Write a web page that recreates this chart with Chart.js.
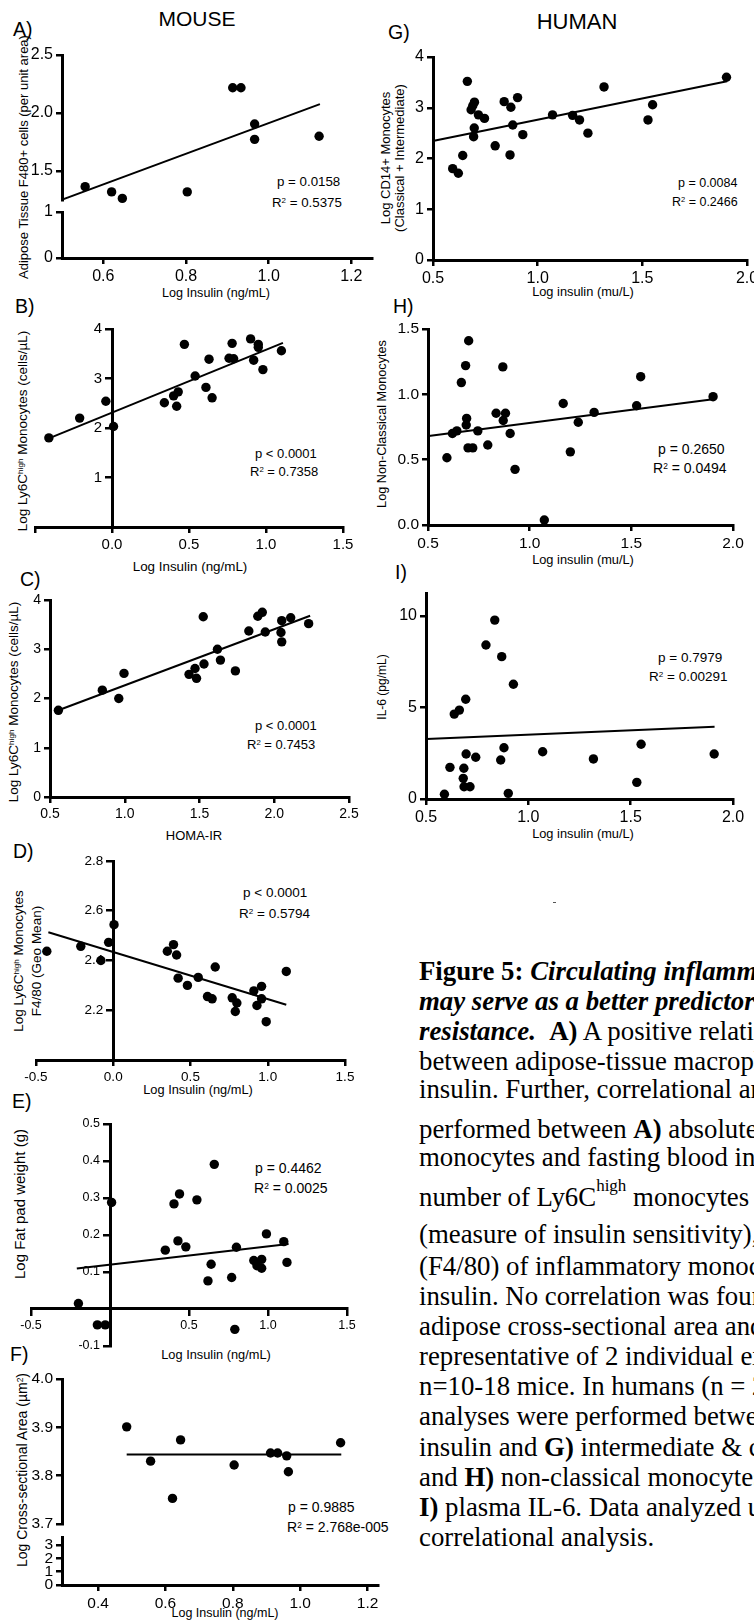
<!DOCTYPE html>
<html>
<head>
<meta charset="utf-8">
<script src="https://cdn.jsdelivr.net/npm/chart.js@4.4.1/dist/chart.umd.min.js"></script>
<style>
html, body { margin: 0; padding: 0; background: #fff; }
body { width: 754px; height: 1623px; position: relative; overflow: hidden; font-family: 'Liberation Sans', Arial, sans-serif; color: #000; }
canvas { position: absolute; }
.t { position: absolute; white-space: nowrap; transform: translate(-50%, -50%); line-height: 1; }
.v { position: absolute; white-space: nowrap; transform: translate(-50%, -50%) rotate(-90deg); line-height: 1; }
.p { position: absolute; white-space: nowrap; transform: translateY(-50%); line-height: 1; }
.cap { position: absolute; left: 419px; white-space: nowrap; font-family: 'Liberation Serif', 'Times New Roman', serif; font-size: 26.8px; line-height: 30px; }
sup { font-size: 0.6em; vertical-align: 0.5em; line-height: 0; }
</style>
</head>
<body>

<div class="t" style="left:197px;top:18px;font-size:21px">MOUSE</div>
<div class="t" style="left:577px;top:22px;font-size:22px">HUMAN</div>

<!-- panel letters -->
<div class="p" style="left:13px;top:30px;font-size:19.5px">A)</div>
<div class="p" style="left:15px;top:307px;font-size:19.5px">B)</div>
<div class="p" style="left:20px;top:580px;font-size:19.5px">C)</div>
<div class="p" style="left:13px;top:852px;font-size:19.5px">D)</div>
<div class="p" style="left:12px;top:1102px;font-size:19.5px">E)</div>
<div class="p" style="left:10px;top:1355px;font-size:19.5px">F)</div>
<div class="p" style="left:388px;top:33px;font-size:19.5px">G)</div>
<div class="p" style="left:393px;top:307px;font-size:19.5px">H)</div>
<div class="p" style="left:395px;top:573px;font-size:19.5px">I)</div>

<!-- y axis titles -->
<div class="v" style="left:23px;top:157px;font-size:13px">Adipose Tissue F480+ cells (per unit area)</div>
<div class="v" style="left:23px;top:431px;font-size:13.5px">Log Ly6C<sup>high</sup> Monocytes (cells/µL)</div>
<div class="v" style="left:14px;top:702px;font-size:13.5px">Log Ly6C<sup>high</sup> Monocytes (cells/µL)</div>
<div class="v" style="left:19px;top:961px;font-size:13.5px">Log Ly6C<sup>high</sup> Monocytes</div>
<div class="v" style="left:37px;top:961px;font-size:13.5px">F4/80 (Geo Mean)</div>
<div class="v" style="left:19px;top:1204px;font-size:15px">Log Fat pad weight (g)</div>
<div class="v" style="left:22px;top:1470px;font-size:14px">Log Cross-sectional Area (µm<sup>2</sup>)</div>
<div class="v" style="left:385px;top:158px;font-size:13px">Log CD14+ Monocytes</div>
<div class="v" style="left:399px;top:158px;font-size:13px">(Classical + Intermediate)</div>
<div class="v" style="left:382px;top:424px;font-size:12.7px">Log Non-Classical Monocytes</div>
<div class="v" style="left:382px;top:687px;font-size:12px">IL-6 (pg/mL)</div>

<!-- x axis titles -->
<div class="t" style="left:216px;top:293px;font-size:12.6px">Log Insulin (ng/mL)</div>
<div class="t" style="left:190px;top:567px;font-size:13.4px">Log Insulin (ng/mL)</div>
<div class="t" style="left:194px;top:835px;font-size:13px">HOMA-IR</div>
<div class="t" style="left:198px;top:1090px;font-size:12.8px">Log Insulin (ng/mL)</div>
<div class="t" style="left:216px;top:1355px;font-size:12.8px">Log Insulin (ng/mL)</div>
<div class="t" style="left:225px;top:1613px;font-size:12.5px">Log Insulin (ng/mL)</div>
<div class="t" style="left:583px;top:292px;font-size:12.8px">Log insulin (mu/L)</div>
<div class="t" style="left:583px;top:560px;font-size:12.8px">Log insulin (mu/L)</div>
<div class="t" style="left:583px;top:834px;font-size:12.8px">Log insulin (mu/L)</div>

<!-- stats -->
<div class="p" style="left:277px;top:182px;font-size:13.3px">p = 0.0158</div>
<div class="p" style="left:272px;top:203px;font-size:13.3px">R<sup>2</sup> = 0.5375</div>
<div class="p" style="left:255px;top:453px;font-size:13px">p &lt; 0.0001</div>
<div class="p" style="left:250px;top:471px;font-size:13px">R<sup>2</sup> = 0.7358</div>
<div class="p" style="left:255px;top:725px;font-size:13px">p &lt; 0.0001</div>
<div class="p" style="left:247px;top:744px;font-size:13px">R<sup>2</sup> = 0.7453</div>
<div class="p" style="left:243px;top:893px;font-size:13.5px">p &lt; 0.0001</div>
<div class="p" style="left:239px;top:914px;font-size:13.5px">R<sup>2</sup> = 0.5794</div>
<div class="p" style="left:255px;top:1168px;font-size:14px">p = 0.4462</div>
<div class="p" style="left:254px;top:1188px;font-size:14px">R<sup>2</sup> = 0.0025</div>
<div class="p" style="left:288px;top:1507px;font-size:14px">p = 0.9885</div>
<div class="p" style="left:287px;top:1527px;font-size:14px">R<sup>2</sup> = 2.768e-005</div>
<div class="p" style="left:678px;top:183px;font-size:12.5px">p = 0.0084</div>
<div class="p" style="left:672px;top:202px;font-size:12.5px">R<sup>2</sup> = 0.2466</div>
<div class="p" style="left:658px;top:449px;font-size:14px">p = 0.2650</div>
<div class="p" style="left:653px;top:468px;font-size:14px">R<sup>2</sup> = 0.0494</div>
<div class="p" style="left:658px;top:658px;font-size:13.5px">p = 0.7979</div>
<div class="p" style="left:649px;top:677px;font-size:13.5px">R<sup>2</sup> = 0.00291</div>

<div style="position:absolute;left:553px;top:902px;width:3px;height:1px;background:#555"></div>

<!-- caption -->
<div class="cap" style="top:956px"><b>Figure 5: <i>Circulating inflammatory monocytes</i></b></div>
<div class="cap" style="top:986px"><b><i>may serve as a better predictor of insulin</i></b></div>
<div class="cap" style="top:1016px"><b><i>resistance.</i></b>&nbsp; <b>A)</b> A positive relationship was found</div>
<div class="cap" style="top:1046px">between adipose-tissue macrophages and fasting</div>
<div class="cap" style="top:1074px">insulin. Further, correlational analyses were</div>
<div class="cap" style="top:1114px">performed between <b>A)</b> absolute number of Ly6C</div>
<div class="cap" style="top:1142px">monocytes and fasting blood insulin, <b>B)</b> absolute</div>
<div class="cap" style="top:1182px">number of Ly6C<span style="font-size:17px;position:relative;top:-15px">high</span> monocytes and HOMA-IR</div>
<div class="cap" style="top:1219px">(measure of insulin sensitivity), and <b>D)</b> expression</div>
<div class="cap" style="top:1251px">(F4/80) of inflammatory monocytes and fasting</div>
<div class="cap" style="top:1281px">insulin. No correlation was found between <b>E)</b></div>
<div class="cap" style="top:1311px">adipose cross-sectional area and insulin. Data</div>
<div class="cap" style="top:1341px">representative of 2 individual experiments with</div>
<div class="cap" style="top:1371px">n=10-18 mice. In humans (n = 27), correlational</div>
<div class="cap" style="top:1401px">analyses were performed between fasting blood</div>
<div class="cap" style="top:1432px">insulin and <b>G)</b> intermediate &amp; classical monocytes,</div>
<div class="cap" style="top:1462px">and <b>H)</b> non-classical monocytes and</div>
<div class="cap" style="top:1492px"><b>I)</b> plasma IL-6. Data analyzed using linear</div>
<div class="cap" style="top:1522px">correlational analysis.</div>

<script>
const FONT = "'Liberation Sans', Arial, sans-serif";

// ---- MOUSE ----
// A) adipose F4/80+ cells vs log insulin
const insulinA = [0.556, 0.62, 0.646, 0.803, 0.913, 0.933, 0.966, 0.966, 1.122];
const f480A = [1.365, 1.32, 1.264, 1.32, 2.218, 2.218, 1.905, 1.773, 1.80];
const fitA = [0.593, 1.32];            // intercept, slope
const fitRangeA = [0.502, 1.124];
const xTicksA = [0.6, 0.8, 1.0, 1.2];
const xLabelsA = ['0.6', '0.8', '1.0', '1.2'];
const yTicksA = [1.5, 2.0, 2.5];
const yLabelsA = ['1.5', '2.0', '2.5'];
const yLowTicksA = [0, 1];
const yLowLabelsA = ['0', '1'];

// B) Ly6C high monocytes vs log insulin
const insulinB = [-0.41, -0.21, -0.04, 0.01, 0.34, 0.40, 0.42, 0.43, 0.47, 0.54, 0.61, 0.63, 0.65, 0.76, 0.78, 0.79, 0.90, 0.92, 0.95, 0.95, 0.98, 1.10];
const ly6cB = [1.80, 2.20, 2.54, 2.03, 2.51, 2.65, 2.44, 2.73, 3.69, 3.05, 2.82, 3.39, 2.61, 3.41, 3.71, 3.40, 3.80, 3.37, 3.69, 3.63, 3.18, 3.56];
const fitB = [2.31, 1.27];
const fitRangeB = [-0.41, 1.11];
const xTicksB = [-0.5, 0, 0.5, 1.0, 1.5];
const xLabelsB = ['', '0.0', '0.5', '1.0', '1.5'];
const yTicksB = [1, 2, 3, 4];
const yLabelsB = ['1', '2', '3', '4'];

// C) Ly6C high monocytes vs HOMA-IR
const homaC = [0.556, 0.85, 0.96, 0.995, 1.43, 1.47, 1.48, 1.525, 1.53, 1.62, 1.64, 1.74, 1.83, 1.89, 1.92, 1.94, 2.045, 2.05, 2.05, 2.11, 2.23];
const ly6cC = [1.76, 2.17, 2.00, 2.51, 2.49, 2.61, 2.41, 3.66, 2.70, 3.00, 2.78, 2.56, 3.37, 3.67, 3.75, 3.35, 3.34, 3.15, 3.58, 3.64, 3.52];
const fitC = [1.127, 1.14];
const fitRangeC = [0.556, 2.24];
const xTicksC = [0.5, 1.0, 1.5, 2.0, 2.5];
const xLabelsC = ['0.5', '1.0', '1.5', '2.0', '2.5'];
const yTicksC = [0, 1, 2, 3, 4];
const yLabelsC = ['0', '1', '2', '3', '4'];

// D) Ly6C high F4/80 geo mean vs log insulin
const insulinD = [-0.43, -0.21, -0.08, -0.03, 0.005, 0.35, 0.39, 0.41, 0.42, 0.48, 0.55, 0.61, 0.64, 0.66, 0.77, 0.80, 0.79, 0.91, 0.93, 0.96, 0.96, 0.99, 1.12];
const f480D = [2.437, 2.457, 2.40, 2.473, 2.544, 2.437, 2.464, 2.422, 2.329, 2.30, 2.332, 2.255, 2.246, 2.374, 2.25, 2.229, 2.195, 2.278, 2.219, 2.296, 2.246, 2.154, 2.356];
const fitD = [2.434, -0.189];
const fitRangeD = [-0.42, 1.12];
const xTicksD = [-0.5, 0, 0.5, 1.0, 1.5];
const xLabelsD = ['-0.5', '0.0', '0.5', '1.0', '1.5'];
const yTicksD = [2.2, 2.4, 2.6, 2.8];
const yLabelsD = ['2.2', '2.4', '2.6', '2.8'];

// E) fat pad weight vs log insulin
const insulinE = [0.01, 0.405, 0.44, 0.55, 0.66, 0.35, 0.43, 0.48, 0.64, 0.80, 0.91, 0.93, 0.96, 0.96, 0.99, 1.10, 1.12, 0.62, 0.77, -0.20, -0.08, -0.03, 0.79];
const fatE = [0.288, 0.284, 0.311, 0.295, 0.391, 0.159, 0.184, 0.168, 0.121, 0.167, 0.131, 0.117, 0.134, 0.110, 0.203, 0.182, 0.126, 0.076, 0.085, 0.015, -0.043, -0.043, -0.055];
const fitE = [0.120, 0.049];
const fitRangeE = [-0.21, 1.13];
const xTicksE = [-0.5, 0.5, 1.0, 1.5];
const xLabelsE = ['-0.5', '0.5', '1.0', '1.5'];
const yTicksE = [-0.1, 0.1, 0.2, 0.3, 0.4, 0.5];
const yLabelsE = ['-0.1', '0.1', '0.2', '0.3', '0.4', '0.5'];

// F) adipocyte cross-sectional area vs log insulin
const insulinF = [0.485, 0.556, 0.621, 0.645, 0.804, 0.912, 0.933, 0.960, 0.965, 1.120];
const areaF = [3.901, 3.830, 3.753, 3.874, 3.822, 3.847, 3.847, 3.841, 3.808, 3.868];
const fitF = [3.844, 0];
const fitRangeF = [0.485, 1.122];
const xTicksF = [0.4, 0.6, 0.8, 1.0, 1.2];
const xLabelsF = ['0.4', '0.6', '0.8', '1.0', '1.2'];
const yTicksF = [3.7, 3.8, 3.9, 4.0];
const yLabelsF = ['3.7', '3.8', '3.9', '4.0'];
const yLowTicksF = [0, 1, 2, 3];
const yLowLabelsF = ['0', '1', '2', '3'];

// ---- HUMAN ----
const xTicksH = [0.5, 1.0, 1.5, 2.0];
const xLabelsH = ['0.5', '1.0', '1.5', '2.0'];

// G) CD14+ monocytes
const insulinG = [0.594, 0.621, 0.642, 0.664, 0.682, 0.69, 0.698, 0.697, 0.694, 0.717, 0.746, 0.797, 0.84, 0.872, 0.868, 0.881, 0.904, 0.929, 1.071, 1.167, 1.20, 1.24, 1.317, 1.527, 1.549, 1.902];
const cd14G = [1.80, 1.71, 2.06, 3.52, 2.96, 3.04, 3.11, 2.60, 2.43, 2.86, 2.79, 2.25, 3.12, 3.01, 2.07, 2.66, 3.20, 2.47, 2.86, 2.85, 2.76, 2.50, 3.41, 2.76, 3.06, 3.60];
const fitG = [1.928, 0.836];
const fitRangeG = [0.505, 1.905];
const yTicksG = [0, 1, 2, 3, 4];
const yLabelsG = ['0', '1', '2', '3', '4'];

// H) non-classical monocytes
const insulinHm = [0.593, 0.62, 0.642, 0.664, 0.685, 0.688, 0.69, 0.70, 0.697, 0.72, 0.745, 0.794, 0.835, 0.868, 0.87, 0.881, 0.904, 0.928, 1.072, 1.165, 1.20, 1.239, 1.317, 1.526, 1.546, 1.902];
const nonClassicalH = [0.515, 0.70, 0.72, 1.09, 1.22, 0.765, 0.816, 1.41, 0.59, 0.59, 0.72, 0.612, 0.855, 1.21, 0.80, 0.855, 0.70, 0.426, 0.038, 0.93, 0.56, 0.786, 0.862, 0.913, 1.135, 0.982];
const fitH = [0.579, 0.2014];
const fitRangeH = [0.503, 1.902];
const yTicksHm = [0, 0.5, 1.0, 1.5];
const yLabelsHm = ['0.0', '0.5', '1.0', '1.5'];

// I) plasma IL-6
const insulinI = [0.59, 0.617, 0.638, 0.663, 0.682, 0.685, 0.686, 0.694, 0.696, 0.715, 0.743, 0.793, 0.836, 0.865, 0.870, 0.881, 0.902, 0.927, 1.07, 1.165, 1.318, 1.53, 1.551, 1.908];
const il6I = [0.26, 1.73, 4.64, 4.86, 1.13, 1.68, 0.67, 5.45, 2.46, 0.67, 2.28, 8.42, 9.78, 2.13, 7.78, 2.80, 0.31, 6.27, 2.58, 12.1, 2.19, 0.91, 2.99, 2.46];
const fitI = [3.04, 0.476];
const fitRangeI = [0.503, 1.91];
const yTicksI = [0, 5, 10];
const yLabelsI = ['0', '5', '10'];

// a y axis placed at x = 0 draws its labels right on the axis line; push them left
const shiftLabels = {
  id: 'shiftLabels',
  beforeDraw(chart) {
    const s = chart.scales.y;
    if (!s || typeof s.options.position !== 'object') return;
    const items = s.getLabelItems();
    if (items.shifted) return;
    items.forEach(it => { it.options.translation[0] -= 10; });
    items.shifted = true;
  }
};

function axis(o, font, extra) {
  return Object.assign({
    type: 'linear',
    min: o.min,
    max: o.max,
    afterBuildTicks: s => { s.ticks = o.ticks.map(v => ({ value: v })); },
    ticks: {
      color: '#000', padding: 3, autoSkip: false, maxRotation: 0,
      font: { family: FONT, size: font },
      callback: (v, i) => o.labels[i]
    },
    grid: { drawOnChartArea: false, color: '#000', lineWidth: 2.5, tickLength: 6 },
    border: { display: true, color: '#000', width: 3 }
  }, extra);
}

function makePanel(c) {
  const m = { left: 50, top: 30, right: 24, bottom: 34 };
  const [l, t, r, b] = c.area;
  const cv = document.createElement('canvas');
  cv.width = r - l + m.left + m.right;
  cv.height = b - t + m.top + m.bottom;
  cv.style.left = (l - m.left) + 'px';
  cv.style.top = (t - m.top) + 'px';
  document.body.appendChild(cv);

  const yMid = c.y.at !== undefined;
  const xMid = c.x.at !== undefined;
  const fitW = s => { s.width = m.left; };
  const scales = {};
  scales.x = axis(c.x, c.font, xMid ? { position: { y: c.x.at } } : { position: 'bottom', afterFit: s => { s.height = m.bottom; } });
  const yExtra = yMid ? { position: { x: c.y.at } } : { position: 'left', afterFit: fitW };
  if (c.low) {
    // broken y axis: lower part, empty gap, upper part (stack is laid out bottom-up)
    scales.yLow = axis(c.low, c.font, { position: 'left', stack: 'brk', stackWeight: c.low.weight, afterFit: fitW });
    scales.yGap = {
      type: 'linear', position: 'left', stack: 'brk', stackWeight: c.gap, min: 0, max: 1,
      afterFit: fitW, ticks: { display: false }, grid: { display: false }, border: { display: false }
    };
    Object.assign(yExtra, { stack: 'brk', stackWeight: c.y.weight });
    scales.y = axis(c.y, c.font, yExtra);
  } else {
    scales.y = axis(c.y, c.font, yExtra);
  }

  const [a0, a1] = c.fit;
  const [f0, f1] = c.fitRange;
  new Chart(cv, {
    type: 'scatter',
    data: {
      datasets: [
        {
          data: c.xs.map((x, i) => ({ x: x, y: c.ys[i] })), xAxisID: 'x', yAxisID: 'y',
          backgroundColor: '#000', borderWidth: 0, pointRadius: 4.7, clip: false
        },
        {
          data: [{ x: f0, y: a0 + a1 * f0 }, { x: f1, y: a0 + a1 * f1 }], xAxisID: 'x', yAxisID: 'y',
          showLine: true, borderColor: '#000', borderWidth: 2, pointRadius: 0
        }
      ]
    },
    options: {
      responsive: false,
      animation: false,
      events: [],
      layout: { padding: { left: yMid ? m.left : 0, top: m.top, right: m.right, bottom: xMid ? m.bottom : 0 } },
      plugins: { legend: { display: false }, tooltip: { enabled: false } },
      scales: scales
    },
    plugins: [shiftLabels]
  });
}

makePanel({
  area: [62, 55, 372, 258], xs: insulinA, ys: f480A, fit: fitA, fitRange: fitRangeA, font: 16,
  x: { min: 0.5, max: 1.25, ticks: xTicksA, labels: xLabelsA },
  y: { min: 1.25, max: 2.5, ticks: yTicksA, labels: yLabelsA, weight: 145 },
  gap: 12,
  low: { min: 0, max: 1, ticks: yLowTicksA, labels: yLowLabelsA, weight: 46 }
});

makePanel({
  area: [35, 329, 343, 527], xs: insulinB, ys: ly6cB, fit: fitB, fitRange: fitRangeB, font: 15,
  x: { min: -0.5, max: 1.5, ticks: xTicksB, labels: xLabelsB },
  y: { min: 0, max: 4, ticks: yTicksB, labels: yLabelsB, at: 0 }
});

makePanel({
  area: [50, 600, 349, 797], xs: homaC, ys: ly6cC, fit: fitC, fitRange: fitRangeC, font: 14,
  x: { min: 0.5, max: 2.5, ticks: xTicksC, labels: xLabelsC },
  y: { min: 0, max: 4, ticks: yTicksC, labels: yLabelsC }
});

makePanel({
  area: [36, 861, 345, 1060], xs: insulinD, ys: f480D, fit: fitD, fitRange: fitRangeD, font: 13.5,
  x: { min: -0.5, max: 1.5, ticks: xTicksD, labels: xLabelsD },
  y: { min: 2.0, max: 2.8, ticks: yTicksD, labels: yLabelsD, at: 0 }
});

makePanel({
  area: [31, 1124, 347, 1346], xs: insulinE, ys: fatE, fit: fitE, fitRange: fitRangeE, font: 12.5,
  x: { min: -0.5, max: 1.5, ticks: xTicksE, labels: xLabelsE, at: 0 },
  y: { min: -0.1, max: 0.5, ticks: yTicksE, labels: yLabelsE, at: 0 }
});

makePanel({
  area: [62, 1379, 378, 1585], xs: insulinF, ys: areaF, fit: fitF, fitRange: fitRangeF, font: 15.5,
  x: { min: 0.293, max: 1.231, ticks: xTicksF, labels: xLabelsF },
  y: { min: 3.7, max: 4.0, ticks: yTicksF, labels: yLabelsF, weight: 145 },
  gap: 13,
  low: { min: 0, max: 3.6, ticks: yLowTicksF, labels: yLowLabelsF, weight: 48 }
});

makePanel({
  area: [433, 57, 747, 260], xs: insulinG, ys: cd14G, fit: fitG, fitRange: fitRangeG, font: 16,
  x: { min: 0.5, max: 2.0, ticks: xTicksH, labels: xLabelsH },
  y: { min: 0, max: 4, ticks: yTicksG, labels: yLabelsG }
});

makePanel({
  area: [428, 329, 733, 525], xs: insulinHm, ys: nonClassicalH, fit: fitH, fitRange: fitRangeH, font: 15.5,
  x: { min: 0.5, max: 2.0, ticks: xTicksH, labels: xLabelsH },
  y: { min: 0, max: 1.5, ticks: yTicksHm, labels: yLabelsHm }
});

makePanel({
  area: [426, 593, 733, 799], xs: insulinI, ys: il6I, fit: fitI, fitRange: fitRangeI, font: 16,
  x: { min: 0.5, max: 2.0, ticks: xTicksH, labels: xLabelsH },
  y: { min: 0, max: 11.26, ticks: yTicksI, labels: yLabelsI }
});
</script>
</body>
</html>
